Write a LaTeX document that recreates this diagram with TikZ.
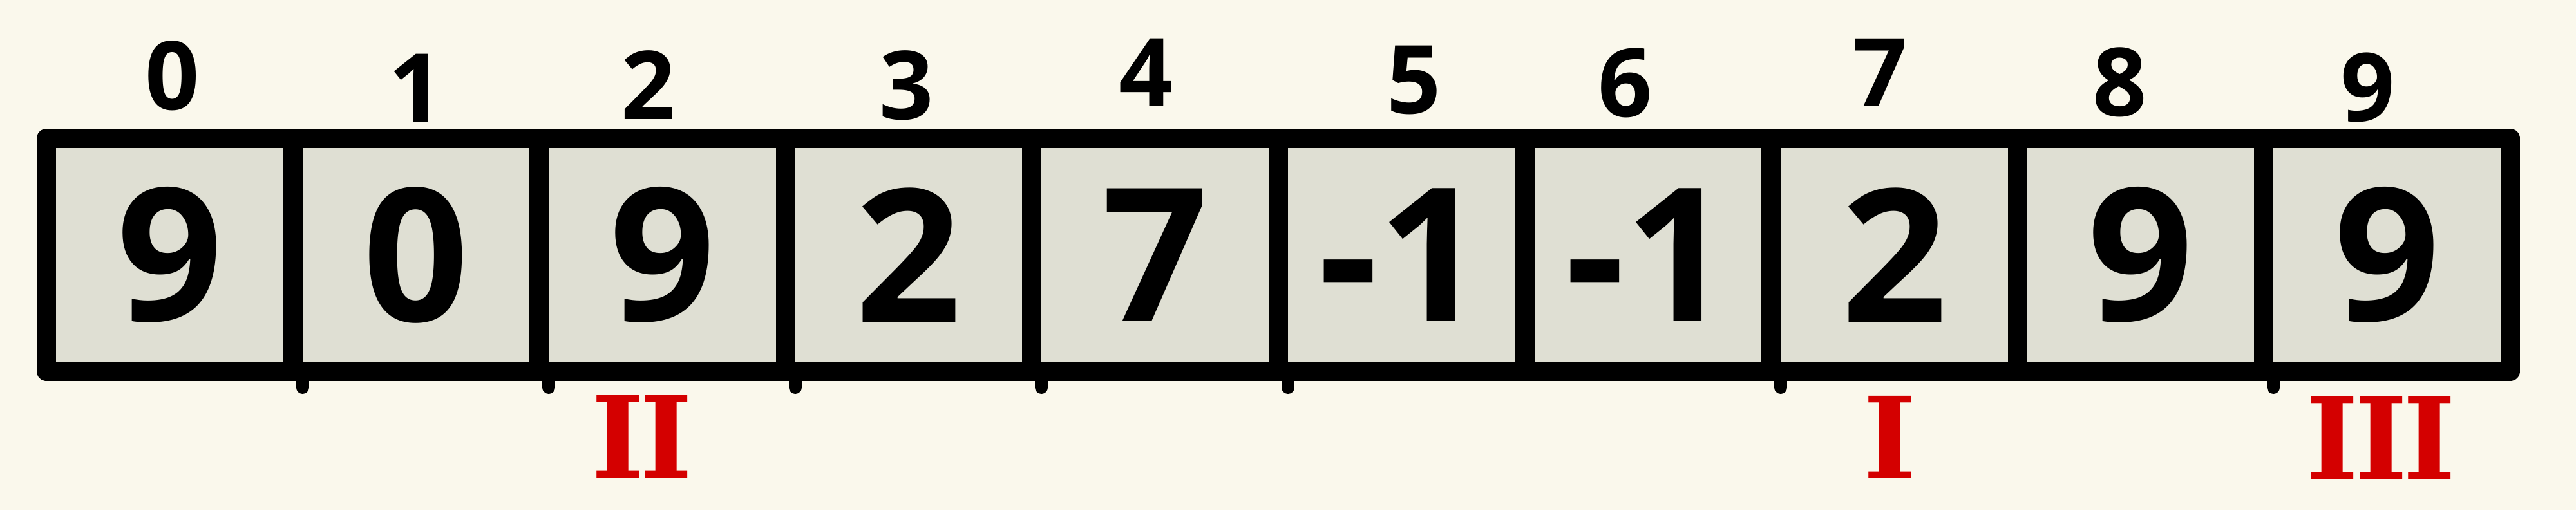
\documentclass[tikz,border=0pt]{standalone}
\usepackage{fontspec}
\newfontfamily\digitfont{Open Sans}[Numbers=Lining]
\newfontfamily\romanfont{DejaVu Serif}
\definecolor{bgcream}{RGB}{250,248,236}
\definecolor{cellgray}{RGB}{223,223,211}
\definecolor{numred}{RGB}{212,0,0}
\tikzset{
  cellbox/.style={draw=black, fill=cellgray, line width=0.3cm, line join=round,
    minimum width=3.826cm, minimum height=3.62cm, inner sep=0pt,
    font=\digitfont\bfseries\fontsize{82}{82}\selectfont},
  idxlabel/.style={inner sep=0pt, font=\digitfont\bfseries\fontsize{42}{42}\selectfont},
  romanlabel/.style={inner sep=0pt, text=numred, font=\romanfont\bfseries\fontsize{50}{50}\selectfont},
  bump/.style={line width=0.2cm, line cap=round}
}
\begin{document}
\begin{tikzpicture}
\useasboundingbox (0,0) rectangle (40,7.93);
\fill[bgcream] (0,0) rectangle (40,7.93);
% cells
\foreach \v [count=\i from 0] in {9,0,9,2,7,-1,-1,2,9,9}{
  \node[cellbox] (c\i) at ({2.633+3.826*\i},3.97) {\v};
}
% little overshoots of the dividers below the bottom edge
\foreach \i in {0,1,2,3,4,6,8}{
  \draw[bump] (c\i.south east) -- ++(0,-0.1);
}
% indices
\node[idxlabel] (i0) at (2.68,6.75) {0};
\node[idxlabel] (i1) at (6.46,6.56) {1};
\node[idxlabel] (i2) at (10.07,6.61) {2};
\node[idxlabel] (i3) at (14.08,6.60) {3};
\node[idxlabel] (i4) at (17.80,6.80) {4};
\node[idxlabel] (i5) at (21.96,6.68) {5};
\node[idxlabel] (i6) at (25.24,6.64) {6};
\node[idxlabel] (i7) at (29.20,6.80) {7};
\node[idxlabel] (i8) at (32.92,6.65) {8};
\node[idxlabel] (i9) at (36.77,6.57) {9};
% roman markers
\node[romanlabel] (r2) at (9.97,1.15) {I\kern-0.04em I};
\node[romanlabel] (r7) at (29.35,1.14) {I};
\node[romanlabel] (r9) at (36.97,1.13) {I\kern-0.04em I\kern-0.04em I};
\end{tikzpicture}
\end{document}
